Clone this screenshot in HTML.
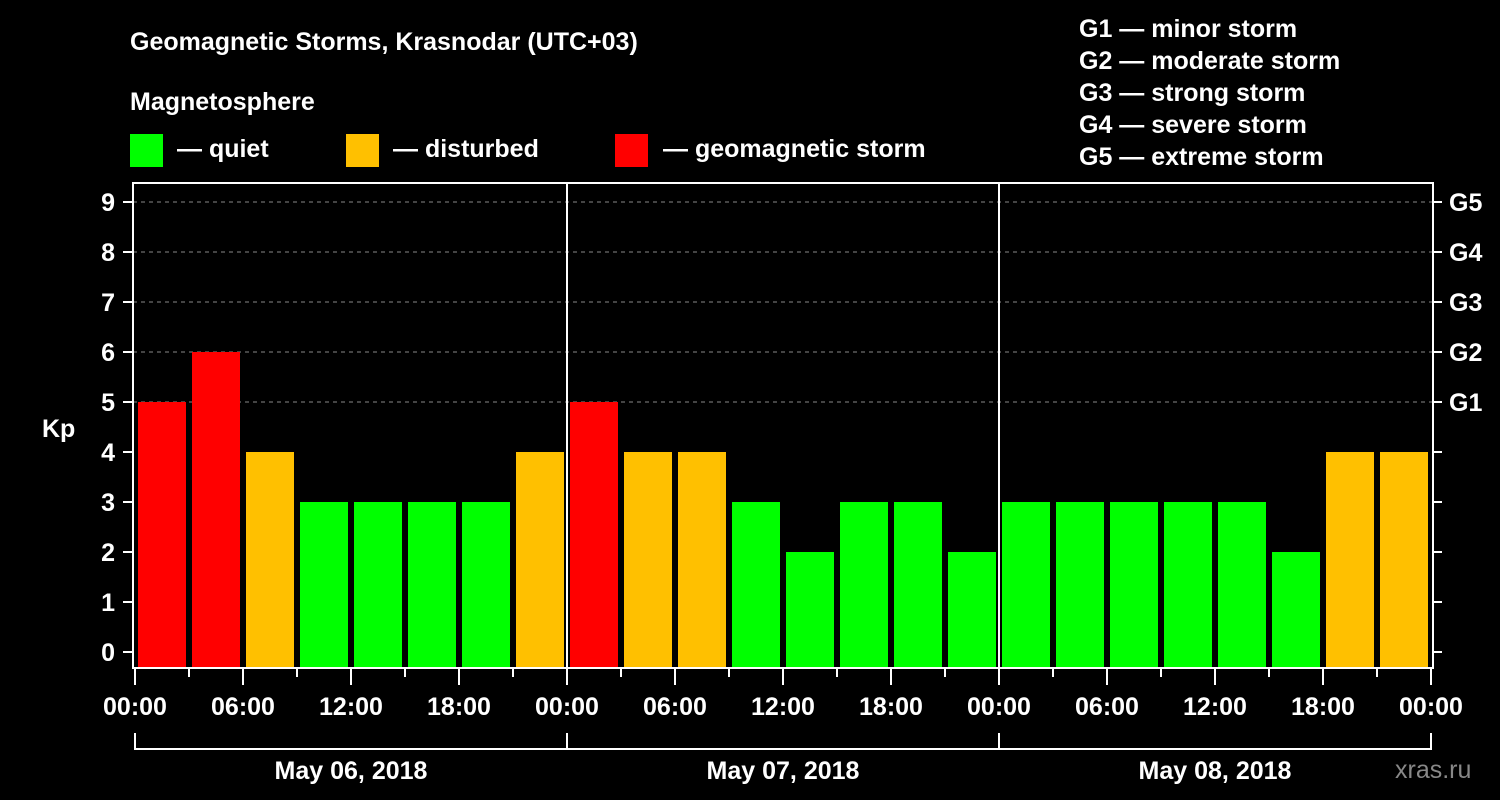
<!DOCTYPE html>
<html><head><meta charset="utf-8"><style>
body{margin:0;background:#000;}
svg{display:block;font-family:"Liberation Sans",Arial,sans-serif;font-weight:bold;}
</style></head><body>
<svg id="chart" width="1500" height="800" viewBox="0 0 1500 800">
<rect width="1500" height="800" fill="#000"/>
<text x="130" y="50" fill="#fff" font-size="25">Geomagnetic Storms, Krasnodar (UTC+03)</text>
<text x="130" y="110" fill="#fff" font-size="25">Magnetosphere</text>
<g><rect x="130" y="134" width="33" height="33" fill="#00ff00"/><text x="177" y="157" fill="#fff" font-size="25">— quiet</text></g>
<g><rect x="346" y="134" width="33" height="33" fill="#ffc000"/><text x="393" y="157" fill="#fff" font-size="25">— disturbed</text></g>
<g><rect x="615" y="134" width="33" height="33" fill="#ff0000"/><text x="663" y="157" fill="#fff" font-size="25">— geomagnetic storm</text></g>
<g fill="#fff" font-size="25">
<text x="1079" y="37">G1 — minor storm</text>
<text x="1079" y="69">G2 — moderate storm</text>
<text x="1079" y="101">G3 — strong storm</text>
<text x="1079" y="133">G4 — severe storm</text>
<text x="1079" y="165">G5 — extreme storm</text>
</g>
<text x="42" y="437" fill="#fff" font-size="25">Kp</text>
<g id="grid"></g><g id="bars"></g><g id="axes"></g>
<text x="1395" y="778" fill="#888" font-size="25" font-weight="normal">xras.ru</text>
</svg>
<script>
const values=[5,6,4,3,3,3,3,4, 5,4,4,3,2,3,3,2, 3,3,3,3,3,2,4,4];
const days=["May 06, 2018","May 07, 2018","May 08, 2018"];
const timeLabels=["00:00","06:00","12:00","18:00"];
const yTicks=[0,1,2,3,4,5,6,7,8,9];
const gLabels=["G1","G2","G3","G4","G5"];
const NS="http://www.w3.org/2000/svg";
const X0=135,SLOT=54,PL=133,PR=1433,PT=183,PB=668;
const xs=i=>X0+i*SLOT;
const ys=v=>652-v*50;
function mk(t,a,p){const e=document.createElementNS(NS,t);for(const k in a)e.setAttribute(k,a[k]);p.appendChild(e);return e;}
const grid=document.getElementById('grid'),bars=document.getElementById('bars'),axes=document.getElementById('axes');
yTicks.forEach(v=>{if(v>=5){const l=mk('line',{x1:PL,x2:PR,y1:ys(v),y2:ys(v),stroke:'#888','stroke-dasharray':'4,4','stroke-width':1},grid);

}});
values.forEach((v,i)=>{const c=v>=5?'#ff0000':v==4?'#ffc000':'#00ff00';
const r=mk('rect',{x:xs(i)+3,y:ys(v),width:48,height:PB-ys(v),fill:c},bars);

});
mk('rect',{x:PL,y:PT,width:PR-PL,height:PB-PT,fill:'none',stroke:'#fff','stroke-width':2},axes);
for(let d=1;d<days.length;d++){const l=mk('line',{x1:xs(d*8),x2:xs(d*8),y1:PT,y2:PB,stroke:'#fff','stroke-width':2},axes);

}
yTicks.forEach(v=>{mk('line',{x1:123,x2:PL,y1:ys(v),y2:ys(v),stroke:'#fff','stroke-width':2},axes);
mk('line',{x1:PR,x2:PR+9,y1:ys(v),y2:ys(v),stroke:'#fff','stroke-width':2},axes);
const t=mk('text',{x:115,y:ys(v)+9,fill:'#fff','font-size':25,'text-anchor':'end'},axes);t.textContent=v;

});
gLabels.forEach((g,i)=>{const t=mk('text',{x:1449,y:ys(5+i)+9,fill:'#fff','font-size':25},axes);t.textContent=g;

});
for(let i=0;i<=values.length;i++){const major=i%2==0;
mk('line',{x1:xs(i),x2:xs(i),y1:PB,y2:major?685:677,stroke:'#fff','stroke-width':2},axes);
if(major){const t=mk('text',{x:xs(i),y:715,fill:'#fff','font-size':25,'text-anchor':'middle'},axes);t.textContent=timeLabels[(i/2)%4];

}}
mk('path',{d:`M${xs(0)} 733V749H${xs(24)}V733`,fill:'none',stroke:'#fff','stroke-width':2},axes);
days.forEach((d,i)=>{mk('line',{x1:xs(i*8),x2:xs(i*8),y1:733,y2:749,stroke:'#fff','stroke-width':2},axes);
const t=mk('text',{x:xs(i*8+4),y:779,fill:'#fff','font-size':25,'text-anchor':'middle'},axes);t.textContent=d;

});
</script>
</body></html>
